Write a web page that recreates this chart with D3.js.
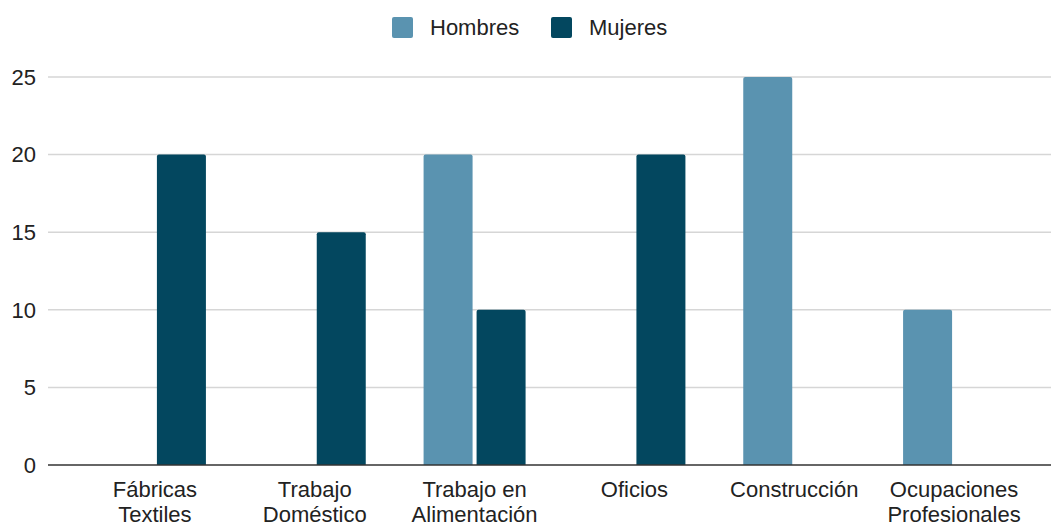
<!DOCTYPE html>
<html>
<head>
<meta charset="utf-8">
<script src="https://cdn.jsdelivr.net/npm/d3@7"></script>
<style>
  body { margin: 0; background: #fff; }
  text { font-family: "Liberation Sans", Arial, sans-serif; fill: #222; }
</style>
</head>
<body>
<div id="chart"></div>
<script>
let categories = [
    ["Fábricas", "Textiles"],
    ["Trabajo", "Doméstico"],
    ["Trabajo en", "Alimentación"],
    ["Oficios"],
    ["Construcción"],
    ["Ocupaciones", "Profesionales"]
];
let seriesNames = ["Hombres", "Mujeres"];
let hombres = [0, 0, 20, 0, 25, 10];
let mujeres = [20, 15, 10, 20, 0, 0];
let yTicks = [0, 5, 10, 15, 20, 25];
let seriesColors = ["#5a93b0", "#03475f"];

let width = 1051, height = 524;
let catKeys = categories.map((c) => c.join(" "));

let svg = d3.select("#chart").append("svg")
    .attr("width", width)
    .attr("height", height);

let xScale = d3.scaleBand()
    .domain(catKeys)
    .range([75, 1034])
    .padding(0);

let groupScale = d3.scaleBand()
    .domain(seriesNames)
    .range([-51, 51])
    .paddingInner(0.0755)
    .paddingOuter(0);

let yScale = d3.scaleLinear()
    .domain([0, 25])
    .range([465, 77]);

// gridlines
svg.append("g")
    .selectAll("line")
    .data(yTicks.filter((d) => d > 0))
    .enter().append("line")
    .attr("x1", 48)
    .attr("x2", width)
    .attr("y1", (d) => yScale(d))
    .attr("y2", (d) => yScale(d))
    .attr("stroke", "#d6d6d6")
    .attr("stroke-width", 1.5);

// y tick labels
svg.append("g")
    .selectAll("text")
    .data(yTicks)
    .enter().append("text")
    .attr("x", 36)
    .attr("y", (d) => yScale(d))
    .attr("dy", "0.35em")
    .attr("text-anchor", "end")
    .style("font-size", "22px")
    .text((d) => d);

// bars
let rows = catKeys.map((k, i) => ({key: k, values: [hombres[i], mujeres[i]]}));

let groups = svg.append("g")
    .selectAll("g")
    .data(rows)
    .enter().append("g")
    .attr("transform", (d) => "translate(" + (xScale(d.key) + xScale.bandwidth() / 2) + ",0)");

groups.selectAll("path")
    .data((d) => d.values.map((v, i) => ({name: seriesNames[i], value: v, color: seriesColors[i]})).filter((b) => b.value > 0))
    .enter().append("path")
    .attr("d", (b) => {
        let x0 = groupScale(b.name), w = groupScale.bandwidth();
        let y0 = yScale(b.value), y1 = yScale(0), r = 2;
        return "M" + x0 + "," + y1 +
            "V" + (y0 + r) + "Q" + x0 + "," + y0 + " " + (x0 + r) + "," + y0 +
            "H" + (x0 + w - r) + "Q" + (x0 + w) + "," + y0 + " " + (x0 + w) + "," + (y0 + r) +
            "V" + y1 + "Z";
    })
    .attr("fill", (b) => b.color);

// baseline
svg.append("line")
    .attr("x1", 48)
    .attr("x2", width)
    .attr("y1", yScale(0))
    .attr("y2", yScale(0))
    .attr("stroke", "#333")
    .attr("stroke-width", 1.5);

// category labels
let labels = svg.append("g")
    .selectAll("text")
    .data(categories)
    .enter().append("text")
    .attr("text-anchor", "middle")
    .attr("x", (d) => xScale(d.join(" ")) + xScale.bandwidth() / 2)
    .attr("y", 497)
    .style("font-size", "22px");

labels.selectAll("tspan")
    .data((d) => d)
    .enter().append("tspan")
    .attr("x", function () { return d3.select(this.parentNode).attr("x"); })
    .attr("dy", (d, i) => i === 0 ? 0 : 24.5)
    .text((d) => d);

// legend
let legendX = [392, 551];
let legend = svg.append("g")
    .selectAll("g")
    .data(seriesNames)
    .enter().append("g")
    .attr("transform", (d, i) => "translate(" + legendX[i] + ",17)");

legend.append("rect")
    .attr("width", 21)
    .attr("height", 21)
    .attr("rx", 2)
    .attr("fill", (d, i) => seriesColors[i]);

legend.append("text")
    .attr("x", 38)
    .attr("y", 10.5)
    .attr("dy", "0.35em")
    .style("font-size", "22px")
    .text((d) => d);
</script>
</body>
</html>
